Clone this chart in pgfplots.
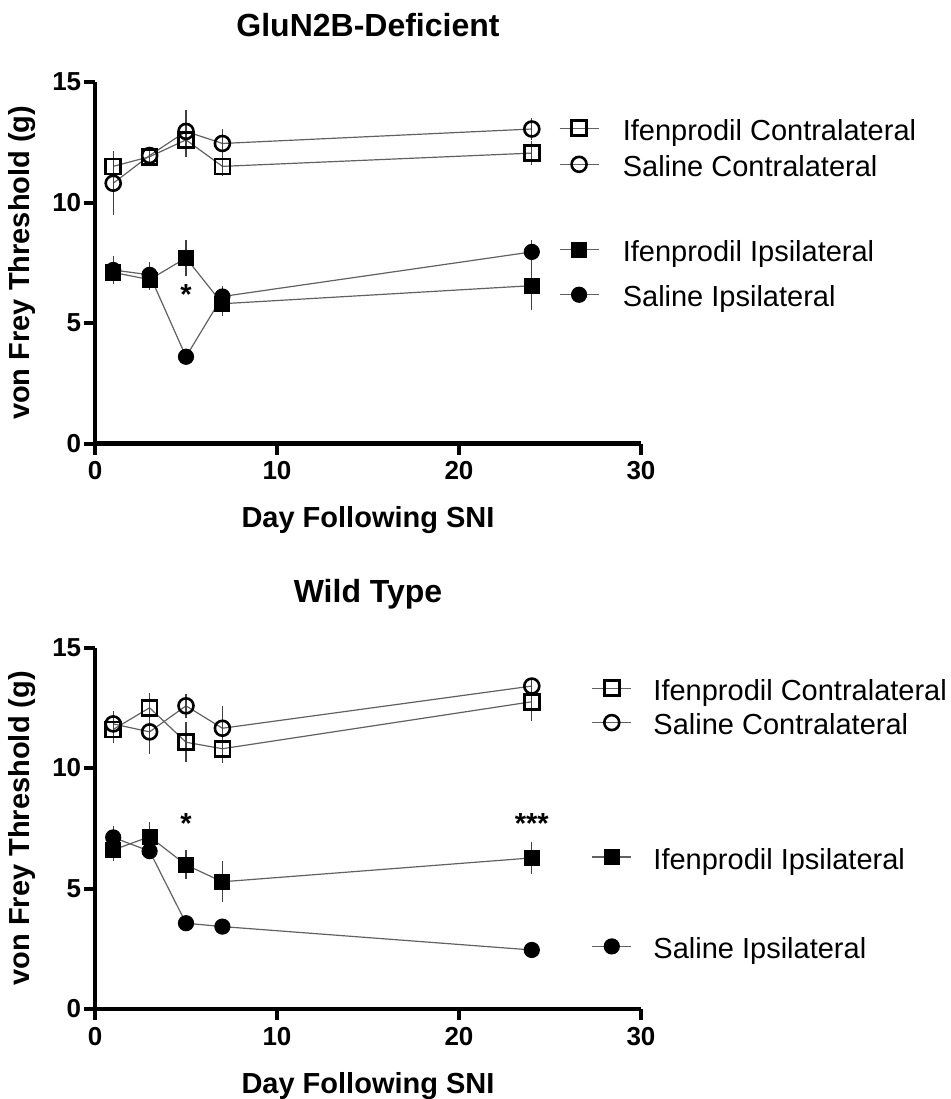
\documentclass[border=0pt]{standalone}
\usepackage{fontspec}
\setmainfont{Liberation Sans}
\usepackage{pgfplots}
\usepackage{pgfplotstable}
\pgfplotsset{compat=1.18}

% columns: day, mean threshold, error
\pgfplotstableread{
day val err
1  11.50 0.65
3  11.90 0.30
5  12.60 0.70
7  11.50 0.40
24 12.05 0.50
}\ktIC
\pgfplotstableread{
day val err
1  10.80 1.30
3  11.95 0.30
5  12.95 0.90
7  12.45 0.60
24 13.05 0.45
}\ktSC
\pgfplotstableread{
day val err
1  7.10 0.45
3  6.80 0.45
5  7.70 0.75
7  5.80 0.50
24 6.55 1.00
}\ktII
\pgfplotstableread{
day val err
1  7.20 0.60
3  7.00 0.55
5  3.60 0.10
7  6.10 0.45
24 7.95 0.48
}\ktSI

\pgfplotstableread{
day val err
1  11.60 0.55
3  12.50 0.60
5  11.07 0.83
7  10.80 0.60
24 12.75 0.80
}\wtIC
\pgfplotstableread{
day val err
1  11.83 0.55
3  11.50 0.93
5  12.58 0.50
7  11.65 0.94
24 13.40 0.30
}\wtSC
\pgfplotstableread{
day val err
1  6.60 0.45
3  7.15 0.60
5  5.98 0.60
7  5.28 0.86
24 6.27 0.65
}\wtII
\pgfplotstableread{
day val err
1  7.12 0.48
3  6.55 0.30
5  3.56 0.10
7  3.42 0.10
24 2.45 0.10
}\wtSI

\newcommand\lstrut{\rule[-3.3pt]{0pt}{17pt}}

\pgfplotsset{
  prism/.style={
    scale only axis, width=273pt, height=180.75pt,
    anchor=south west, clip=false,
    xmin=0, xmax=30, ymin=0, ymax=15,
    axis x line*=bottom, axis y line*=left,
    axis line style={line width=2.2pt, -},
    xtick={0,10,20,30}, ytick={0,5,10,15},
    minor tick num=0,
    tick align=outside, major tick length=5.5pt,
    every tick/.style={black, line width=2pt},
    /pgf/number format/assume math mode=true,
    ticklabel style={font=\bfseries\fontsize{13}{15}\selectfont},
    yticklabel style={inner xsep=1.2pt},
    label style={font=\bfseries\fontsize{14.5}{17}\selectfont},
    xlabel={Day Following SNI},
    ylabel={von Frey Threshold (g)},
    xlabel style={at={(axis description cs:0.5,-0.212)}, anchor=center},
    ylabel style={at={(axis description cs:-0.134,0.5)}, anchor=center},
    title style={font=\bfseries\fontsize{16}{19}\selectfont, at={(0.5,1.092)}, anchor=base},
    legend cell align=left,
    legend image code/.code={%
      \draw[mark repeat=2,mark phase=2,#1]
        plot coordinates {(0pt,0pt) (9.75pt,0pt) (19.5pt,0pt)};},
  },
  series/.style={draw=black!62, line width=0.6pt, mark size=3.75pt,
    /pgfplots/error bars/y dir=both,
    /pgfplots/error bars/y explicit,
    /pgfplots/error bars/error mark=none,
    /pgfplots/error bars/error bar style={black!75, line width=0.6pt, solid}},
  ic/.style={series, mark=square, mark options={solid, draw=black, line width=1.3pt}},
  sc/.style={series, mark=o, mark options={solid, draw=black, line width=1.3pt}},
  ii/.style={series, mark=square*, mark options={solid, draw=black, fill=black}},
  si/.style={series, mark=*, mark options={solid, draw=black, fill=black}},
}

\begin{document}
\begin{tikzpicture}
\useasboundingbox (0pt,0pt) rectangle (475.5pt,-549.5pt);

% GluN2B-deficient mice
\begin{axis}[prism, at={(47.5pt,-221.75pt)},
  title={GluN2B-Deficient},
  legend style={draw=none, fill=none, inner sep=0pt, outer sep=0pt,
    row sep=2.85pt, nodes={inner sep=0pt, font=\fontsize{14.5}{17}\selectfont},
    at={(0.8498,0.9142)}, anchor=north west}]
\addplot[ic] table[x=day, y=val, y error=err] {\ktIC};
\addlegendentry{\hspace{11.8pt}\lstrut Ifenprodil Contralateral}
\addplot[sc] table[x=day, y=val, y error=err] {\ktSC};
\addlegendentry{\hspace{11.8pt}\lstrut Saline Contralateral}
\addlegendimage{empty legend}
\addlegendentry{\rule{0pt}{20.3pt}}
\addplot[ii] table[x=day, y=val, y error=err] {\ktII};
\addlegendentry{\hspace{11.8pt}\lstrut Ifenprodil Ipsilateral}
\addlegendimage{empty legend}
\addlegendentry{\rule{0pt}{0.1pt}}
\addplot[si] table[x=day, y=val, y error=err] {\ktSI};
\addlegendentry{\hspace{11.8pt}\lstrut Saline Ipsilateral}
\node[font=\bfseries\fontsize{14.5}{17}\selectfont] at (axis cs:5,6.2) {*};
\end{axis}

% wild-type mice
\begin{axis}[prism, at={(47.5pt,-504.5pt)},
  title={Wild Type},
  legend style={draw=none, fill=none, inner sep=0pt, outer sep=0pt,
    row sep=2pt, nodes={inner sep=0pt, font=\fontsize{14.5}{17}\selectfont},
    at={(0.9097,0.9295)}, anchor=north west}]
\addplot[ic] table[x=day, y=val, y error=err] {\wtIC};
\addlegendentry{\hspace{10.8pt}\lstrut Ifenprodil Contralateral}
\addplot[sc] table[x=day, y=val, y error=err] {\wtSC};
\addlegendentry{\hspace{10.8pt}\lstrut Saline Contralateral}
\addlegendimage{empty legend}
\addlegendentry{\rule{0pt}{46.5pt}}
\addplot[ii] table[x=day, y=val, y error=err] {\wtII};
\addlegendentry{\hspace{10.8pt}\lstrut Ifenprodil Ipsilateral}
\addlegendimage{empty legend}
\addlegendentry{\rule{0pt}{24pt}}
\addplot[si] table[x=day, y=val, y error=err] {\wtSI};
\addlegendentry{\hspace{10.8pt}\lstrut Saline Ipsilateral}
\node[font=\bfseries\fontsize{14.5}{17}\selectfont] at (axis cs:5,7.7) {*};
\node[font=\bfseries\fontsize{14.5}{17}\selectfont] at (axis cs:24,7.7) {***};
\end{axis}
\end{tikzpicture}
\end{document}
